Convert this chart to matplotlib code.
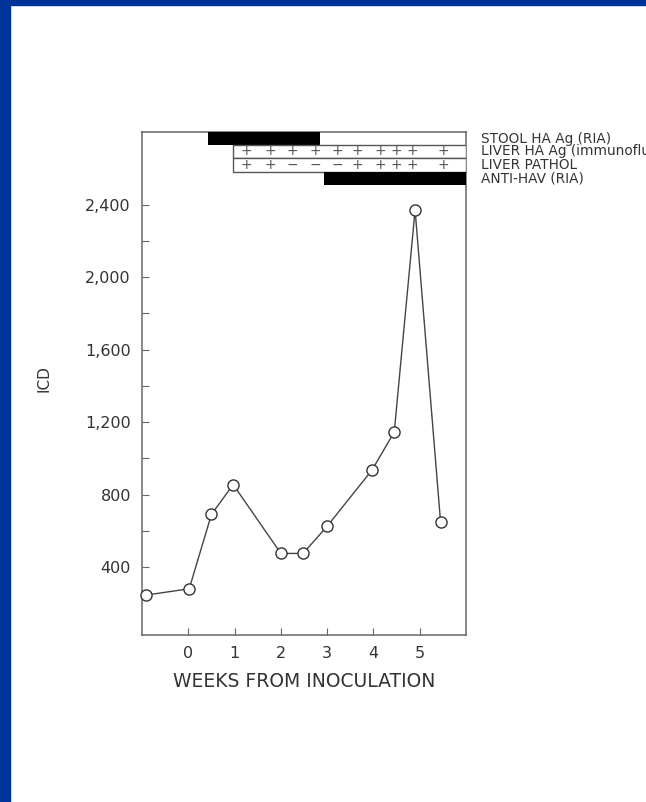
import matplotlib.pyplot as plt
from matplotlib.patches import Rectangle

# ICD values
weeks = [-0.92, 0.02, 0.5, 0.97, 2.0, 2.48, 3.0, 3.97, 4.45, 4.9, 5.45]
icd = [245, 280, 690, 855, 475, 475, 625, 935, 1145, 2370, 650]

# annotation strip above the curve
stool_span = (0.43, 2.84)
antihav_span = (2.93, 6.0)
liver_box_span = (0.97, 6.0)
sign_weeks = [1.25, 1.77, 2.24, 2.74, 3.21, 3.66, 4.14, 4.5, 4.85, 5.5]
liver_ag = ['+', '+', '+', '+', '+', '+', '+', '+', '+', '+']
liver_path = ['+', '+', '\u2212', '\u2212', '\u2212', '+', '+', '+', '+', '+']
row_labels = ['STOOL HA Ag (RIA)', 'LIVER HA Ag (immunofluorescence)',
              'LIVER PATHOL', 'ANTI-HAV (RIA)']

plt.rcParams['font.family'] = ['DejaVu Sans']
ink = '#333333'

fig = plt.figure(figsize=(6.46, 8.02), dpi=100)
fig.patches.append(Rectangle((0, 0), 10 / 646, 1, transform=fig.transFigure,
                             color='#003399', zorder=0))
fig.patches.append(Rectangle((0, 1 - 5 / 802), 1, 5 / 802, transform=fig.transFigure,
                             color='#003399', zorder=0))

ax = fig.add_axes([142 / 646, 167 / 802, 324 / 646, 503 / 802])
ax.plot(weeks, icd, color='#444444', lw=1.0, marker='o', ms=8,
        mfc='white', mec='#333333', mew=1.0, clip_on=False, zorder=3)

ax.set_xlim(-1, 6)
ax.set_ylim(25, 2800)
ax.set_xticks(range(0, 6))
ax.set_yticks([400, 800, 1200, 1600, 2000, 2400])
ax.set_yticklabels(['400', '800', '1,200', '1,600', '2,000', '2,400'])
ax.set_yticks([600, 1000, 1400, 1800, 2200], minor=True)
ax.tick_params(which='both', direction='in', length=5, width=0.8, color='#666666',
               labelsize=11.5, labelcolor=ink, pad=8)
for s in ax.spines.values():
    s.set_color('#666666')
    s.set_linewidth(1.1)
ax.set_xlabel('WEEKS FROM INOCULATION', fontsize=13.5, color=ink)
ax.xaxis.set_label_coords(0.5, -0.073)
ax.set_ylabel('ICD', fontsize=11, color=ink)
ax.yaxis.set_label_coords(-0.278, 0.51)

# strip rows (data units on y)
rows = [(2728, 2800), (2657, 2728), (2579, 2657), (2508, 2579)]
ax.barh((rows[0][0] + rows[0][1]) / 2, stool_span[1] - stool_span[0], left=stool_span[0],
        height=rows[0][1] - rows[0][0], color='black', zorder=4)
for r in (rows[1], rows[2]):
    ax.barh((r[0] + r[1]) / 2, liver_box_span[1] - liver_box_span[0], left=liver_box_span[0],
            height=r[1] - r[0], color='white', edgecolor='#555555', lw=1.0, zorder=4)
ax.barh((rows[3][0] + rows[3][1]) / 2, antihav_span[1] - antihav_span[0], left=antihav_span[0],
        height=rows[3][1] - rows[3][0], color='black', zorder=4)

for signs, r in ((liver_ag, rows[1]), (liver_path, rows[2])):
    for w, s in zip(sign_weeks, signs):
        ax.text(w, (r[0] + r[1]) / 2, s, ha='center', va='center', fontsize=10,
                color='#555555', zorder=5)

for lab, r in zip(row_labels, rows):
    ax.text(6.33, (r[0] + r[1]) / 2, lab, ha='left', va='center', fontsize=9.8,
            color=ink, clip_on=False)

fig.savefig('out.png', dpi=100)
